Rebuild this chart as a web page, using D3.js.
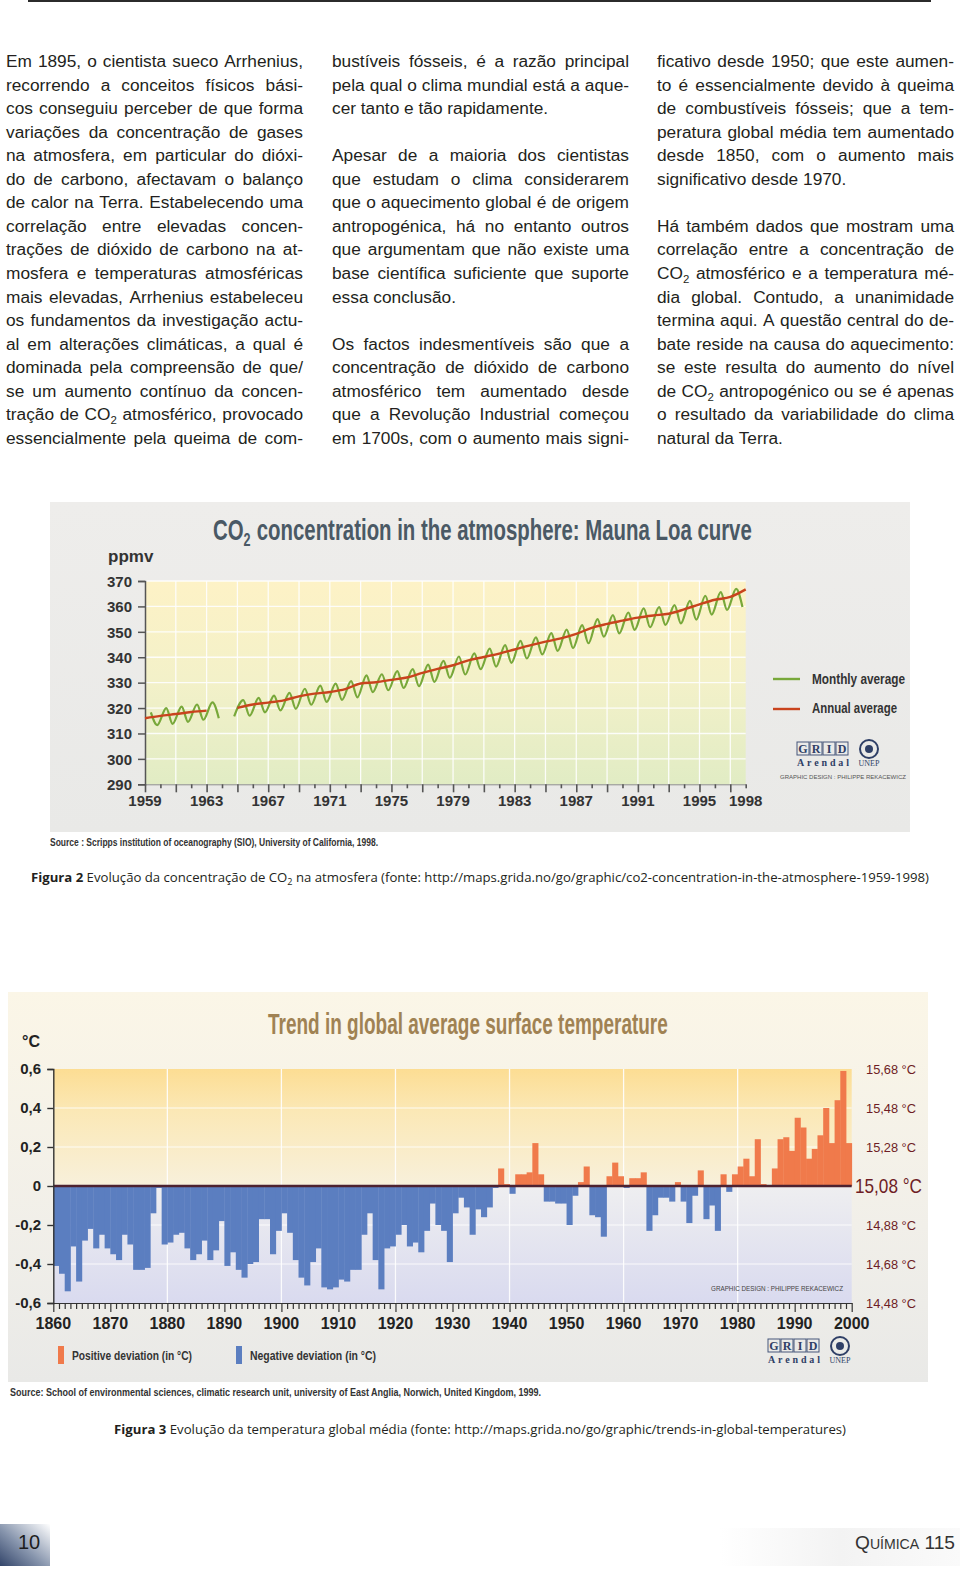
<!DOCTYPE html>
<html><head><meta charset="utf-8">
<script src="https://cdn.jsdelivr.net/npm/d3@7"></script>
<style>body{margin:0;background:#fff}svg{display:block}</style>
</head><body>
<svg id="page" width="960" height="1574"></svg>
<script>
// ---------------- DATA ----------------
const co2Years = [1959,1960,1961,1962,1963,1964,1965,1966,1967,1968,1969,1970,1971,1972,1973,1974,1975,1976,1977,1978,1979,1980,1981,1982,1983,1984,1985,1986,1987,1988,1989,1990,1991,1992,1993,1994,1995,1996,1997,1998];
const co2Annual = [315.97,316.91,317.64,318.45,318.99,null,320.04,321.38,322.16,323.04,324.62,325.68,326.32,327.45,329.68,330.18,331.11,332.04,333.83,335.40,336.84,338.75,340.11,341.45,343.05,344.65,346.12,347.42,349.19,351.57,353.12,354.39,355.61,356.45,357.10,358.83,360.82,362.61,363.73,366.70];
const co2MonthYears = [1959,1960,1961,1962,1963,1964,1965,1966,1967,1968,1969,1970,1971,1972,1973,1974,1975,1976,1977,1978,1979,1980,1981,1982,1983,1984,1985,1986,1987,1988,1989,1990,1991,1992,1993,1994,1995,1996,1997];
const co2Peak = [318.3,320.0,320.6,321.4,322.2,null,323.1,324.0,324.9,326.0,327.6,328.8,329.6,330.6,332.9,333.3,334.5,335.3,337.1,338.6,340.3,341.5,343.4,344.8,346.4,347.8,349.5,350.9,352.6,355.0,356.6,357.6,359.2,359.7,360.5,362.2,364.2,365.6,366.9];
const co2Trough = [313.3,313.8,314.6,315.4,316.0,316.7,317.0,318.3,319.1,319.7,321.3,322.4,323.2,324.2,326.3,327.0,327.9,328.6,330.3,331.9,333.2,335.3,336.3,337.8,339.5,341.1,342.5,343.6,345.5,348.1,349.4,350.8,351.8,352.7,353.3,354.8,356.8,358.6,359.8];
const co2YTicks = [290,300,310,320,330,340,350,360,370];
const co2XLabels = [1959,1963,1967,1971,1975,1979,1983,1987,1991,1995,1998];

const tempFirstYear = 1860;
const tempDeviation = [
 -0.41,-0.45,-0.54,-0.31,-0.49,-0.28,-0.22,-0.32,-0.25,-0.32,
 -0.35,-0.38,-0.25,-0.30,-0.43,-0.43,-0.42,-0.14,-0.01,-0.30,
 -0.29,-0.25,-0.24,-0.32,-0.38,-0.35,-0.28,-0.38,-0.33,-0.18,
 -0.41,-0.34,-0.43,-0.47,-0.40,-0.39,-0.17,-0.17,-0.35,-0.23,
 -0.14,-0.24,-0.38,-0.47,-0.51,-0.39,-0.32,-0.52,-0.53,-0.52,
 -0.48,-0.49,-0.43,-0.43,-0.25,-0.14,-0.38,-0.53,-0.32,-0.31,
 -0.25,-0.20,-0.31,-0.29,-0.34,-0.23,-0.09,-0.20,-0.23,-0.39,
 -0.14,-0.06,-0.11,-0.25,-0.12,-0.16,-0.11,-0.01,0.09,0.01,
 -0.04,0.06,0.06,0.07,0.22,0.06,-0.08,-0.08,-0.09,-0.09,
 -0.20,-0.05,0.02,0.10,-0.15,-0.16,-0.26,0.05,0.12,0.05,
 -0.01,0.04,0.04,0.07,-0.23,-0.15,-0.06,-0.06,-0.08,0.02,
 -0.08,-0.19,-0.05,0.08,-0.17,-0.10,-0.23,0.06,-0.03,0.06,
 0.10,0.14,0.05,0.24,0.01,0.005,0.09,0.24,0.25,0.18,
 0.35,0.30,0.14,0.19,0.26,0.40,0.22,0.44,0.59,0.22];
const tempYTicks = [-0.6,-0.4,-0.2,0,0.2,0.4,0.6];
const tempYLabels = ["-0,6","-0,4","-0,2","0","0,2","0,4","0,6"];
const tempAbsLabels = ["14,48 °C","14,68 °C","14,88 °C","15,08 °C","15,28 °C","15,48 °C","15,68 °C"];
const tempXLabels = [1860,1870,1880,1890,1900,1910,1920,1930,1940,1950,1960,1970,1980,1990,2000];

// ---------------- BODY TEXT ----------------
const col1 = ["Em 1895, o cientista sueco Arrhenius,","recorrendo a conceitos físicos bási-","cos conseguiu perceber de que forma","variações da concentração de gases","na atmosfera, em particular do dióxi-","do de carbono, afectavam o balanço","de calor na Terra. Estabelecendo uma","correlação entre elevadas concen-","trações de dióxido de carbono na at-","mosfera e temperaturas atmosféricas","mais elevadas, Arrhenius estabeleceu","os fundamentos da investigação actu-","al em alterações climáticas, a qual é","dominada pela compreensão de que/","se um aumento contínuo da concen-","tração de CO_2 atmosférico, provocado","essencialmente pela queima de com-"];
const col2 = ["bustíveis fósseis, é a razão principal","pela qual o clima mundial está a aque-","cer tanto e tão rapidamente.","","Apesar de a maioria dos cientistas","que estudam o clima considerarem","que o aquecimento global é de origem","antropogénica, há no entanto outros","que argumentam que não existe uma","base científica suficiente que suporte","essa conclusão.","","Os factos indesmentíveis são que a","concentração de dióxido de carbono","atmosférico tem aumentado desde","que a Revolução Industrial começou","em 1700s, com o aumento mais signi-"];
const col3 = ["ficativo desde 1950; que este aumen-","to é essencialmente devido à queima","de combustíveis fósseis; que a tem-","peratura global média tem aumentado","desde 1850, com o aumento mais","significativo desde 1970.","","Há também dados que mostram uma","correlação entre a concentração de","CO_2 atmosférico e a temperatura mé-","dia global. Contudo, a unanimidade","termina aqui. A questão central do de-","bate reside na causa do aquecimento:","se este resulta do aumento do nível","de CO_2 antropogénico ou se é apenas","o resultado da variabilidade do clima","natural da Terra."];

const svg = d3.select('#page');
const defs = svg.append('defs');
function grad(id, stops, x2=0, y2=1, x1=0, y1=0){
  const g = defs.append('linearGradient').attr('id', id).attr('x1',x1).attr('y1',y1).attr('x2',x2).attr('y2',y2);
  stops.forEach(s => g.append('stop').attr('offset', s[0]).attr('stop-color', s[1]));
}
const BODY = "'Liberation Sans', Arial, Helvetica, sans-serif";
const COND = "'Liberation Sans Narrow','Arial Narrow','Liberation Sans',Arial,sans-serif";
const CAP = "'Open Sans','Noto Sans',sans-serif";

svg.append('rect').attr('width',960).attr('height',1574).attr('fill','#fff');
svg.append('line').attr('x1',28).attr('x2',931).attr('y1',1).attr('y2',1).attr('stroke','#2b2b2b').attr('stroke-width',2);

// body text with word justification
const bodySize = 17.3;
const gBody = svg.append('g').attr('font-family', BODY).attr('font-size', bodySize).attr('fill', '#231f20');
function addRich(t, w, size){
  let sub = false;
  w.split(/(_\d)/).forEach(p => {
    if (!p) return;
    if (p[0] === '_') { t.append('tspan').attr('font-size', size*0.66).attr('dy', 4).text(p.slice(1)); sub = true; }
    else { t.append('tspan').attr('dy', sub ? -4 : 0).text(p); sub = false; }
  });
}
const meas = gBody.append('text').text('n n'); const w1 = meas.node().getComputedTextLength();
meas.text('nn'); const spaceW = w1 - meas.node().getComputedTextLength(); meas.remove();
function bodyLine(str, x, y, width, justify){
  const words = str.split(' ').filter(d => d.length);
  const nodes = words.map(w => { const t = gBody.append('text').attr('y', y); addRich(t, w, bodySize); return t; });
  const widths = nodes.map(n => n.node().getComputedTextLength());
  const total = d3.sum(widths);
  const gap = (justify && words.length > 1) ? (width - total) / (words.length - 1) : spaceW;
  let cx = x;
  nodes.forEach((n, i) => { n.attr('x', cx); cx += widths[i] + gap; });
}
const colX = [6, 332, 657], colW = 297, lineY0 = 67, lineStep = 23.55;
[col1, col2, col3].forEach((col, ci) => {
  col.forEach((line, li) => {
    if (!line) return;
    const next = col[li + 1];
    const justify = next === undefined ? ci < 2 : next !== "";
    bodyLine(line, colX[ci], lineY0 + li * lineStep, colW, justify);
  });
});

// condensed title: group scaled horizontally to a target width
function condensedTitle(parent, x, y, width, pieces, fill, size){
  const g = parent.append('g');
  let cur = 0;
  pieces.forEach(p => {
    cur += p.gap || 0;
    const t = g.append('text').attr('x', cur).attr('y', p.sub ? 6 : 0)
      .attr('font-family', BODY).attr('font-weight','bold').attr('font-size', p.sub ? size*0.62 : size).attr('fill', fill).text(p.t);
    cur += t.node().getComputedTextLength();
  });
  g.attr('transform', `translate(${x},${y}) scale(${width/cur},1)`);
  return g;
}

// ---------------- CO2 CHART ----------------
grad('co2Panel', [[0,'#eeedeb'],[1,'#e9e9e7']]);
grad('co2Plot', [[0,'#fdf2c6'],[0.5,'#f3f1c9'],[1,'#e1ecc4']]);
svg.append('rect').attr('x',50).attr('y',502).attr('width',860).attr('height',330).attr('fill','url(#co2Panel)');

const cx = d3.scaleLinear().domain([1959,1998]).range([145,745.7]);
const cy = d3.scaleLinear().domain([290,370]).range([784.3,581]);
const gC = svg.append('g');
gC.append('rect').attr('x',cx(1959)).attr('y',cy(370)).attr('width',cx(1998)-cx(1959)).attr('height',cy(290)-cy(370)).attr('fill','url(#co2Plot)');
gC.selectAll('.vg').data(d3.range(1961,1998,2)).join('line')
  .attr('x1',d=>cx(d)).attr('x2',d=>cx(d)).attr('y1',cy(370)).attr('y2',cy(290)).attr('stroke','#fff').attr('stroke-width',1.3).attr('opacity',0.9);
gC.selectAll('.hg').data(co2YTicks.slice(1)).join('line')
  .attr('x1',cx(1959)).attr('x2',cx(1998)).attr('y1',d=>cy(d)).attr('y2',d=>cy(d)).attr('stroke','#fff').attr('stroke-width',1.3).attr('opacity',0.9);
const co2Left = d3.axisLeft(cy).tickValues(co2YTicks).tickSize(7).tickPadding(6).tickFormat(d3.format('d'));
const gLy = gC.append('g').attr('transform',`translate(${cx(1959)},0)`).call(co2Left);
gLy.select('.domain').attr('stroke','#555').attr('stroke-width',1.5);
gLy.selectAll('.tick line').attr('stroke','#555').attr('stroke-width',1.5);
gLy.selectAll('text').attr('font-family',BODY).attr('font-weight','bold').attr('font-size',15).attr('fill','#333').attr('dy','0.35em');
const co2Bottom = d3.axisBottom(cx).tickValues(d3.range(1959,1999,1)).tickSize(0).tickFormat('');
const gBx = gC.append('g').attr('transform',`translate(0,${cy(290)})`).call(co2Bottom);
gBx.select('.domain').attr('stroke','#777').attr('stroke-width',0.8);
gBx.selectAll('.tick line').attr('stroke','#555').attr('stroke-width',1.6).attr('y2', d => (d-1959)%2===0 ? 8 : 4);
gC.selectAll('.xl').data(co2XLabels).join('text').attr('x',d=>cx(d)).attr('y',806)
  .attr('text-anchor','middle').attr('font-family',BODY).attr('font-weight','bold').attr('font-size',15).attr('fill','#333').text(d=>d);
gC.append('text').attr('x',108).attr('y',562).attr('font-family',BODY).attr('font-weight','bold').attr('font-size',17).attr('fill','#333').text('ppmv');
const monthly = [];
co2MonthYears.forEach((y,i) => { monthly.push([y+0.38, co2Peak[i]]); monthly.push([y+0.79, co2Trough[i]]); });
const lineM = d3.line().defined(d=>d[1]!=null).x(d=>cx(d[0])).y(d=>cy(d[1])).curve(d3.curveMonotoneX);
gC.append('path').attr('d', lineM(monthly)).attr('fill','none').attr('stroke','#78a83a').attr('stroke-width',2.2);
const annual = co2Years.map((y,i)=>[y, co2Annual[i]]);
gC.append('path').attr('d', lineM(annual)).attr('fill','none').attr('stroke','#c9431d').attr('stroke-width',2.4);
condensedTitle(gC, 213, 540, 539, [{t:'CO'},{t:'2',sub:true},{t:'concentration in the atmosphere: Mauna Loa curve', gap:9}], '#4a5965', 30);
// legend
gC.append('line').attr('x1',773).attr('x2',800).attr('y1',679).attr('y2',679).attr('stroke','#78a83a').attr('stroke-width',2.4);
gC.append('line').attr('x1',773).attr('x2',800).attr('y1',709).attr('y2',709).attr('stroke','#c9431d').attr('stroke-width',2.4);
gC.append('text').attr('x',812).attr('y',684).attr('font-family',COND).attr('font-weight','bold').attr('font-size',14).attr('fill','#333').text('Monthly average').attr('textLength',93).attr('lengthAdjust','spacingAndGlyphs');
gC.append('text').attr('x',812).attr('y',713).attr('font-family',COND).attr('font-weight','bold').attr('font-size',14).attr('fill','#333').text('Annual average').attr('textLength',85).attr('lengthAdjust','spacingAndGlyphs');
function gridLogo(g, x, y, s){
  ['G','R','I','D'].forEach((l,i)=>{
    g.append('rect').attr('x',x+i*13*s).attr('y',y).attr('width',12*s).attr('height',13*s).attr('fill','none').attr('stroke','#46567a').attr('stroke-width',1);
    g.append('text').attr('x',x+i*13*s+6*s).attr('y',y+11*s).attr('text-anchor','middle').attr('font-family',"'Liberation Serif',serif").attr('font-weight','bold').attr('font-size',12*s).attr('fill','#2f3f66').text(l);
  });
  g.append('text').attr('x',x).attr('y',y+24*s).attr('font-family',"'Liberation Serif',serif").attr('font-weight','bold').attr('font-size',10*s).attr('fill','#2f3f66').text('Arendal').attr('textLength',52*s).attr('lengthAdjust','spacing');
  const ux = x + 72*s, uy = y + 7*s;
  g.append('circle').attr('cx',ux).attr('cy',uy).attr('r',9*s).attr('fill','none').attr('stroke','#2f3f66').attr('stroke-width',2);
  g.append('circle').attr('cx',ux).attr('cy',uy).attr('r',4*s).attr('fill','#2f3f66');
  g.append('text').attr('x',ux).attr('y',y+24*s).attr('text-anchor','middle').attr('font-family',"'Liberation Serif',serif").attr('font-size',8*s).attr('fill','#2f3f66').text('UNEP');
}
gridLogo(gC, 797, 742, 1);
gC.append('text').attr('x',780).attr('y',779).attr('font-family',COND).attr('font-size',6).attr('fill','#555').text('GRAPHIC DESIGN : PHILIPPE REKACEWICZ').attr('textLength',126).attr('lengthAdjust','spacingAndGlyphs');
gC.append('text').attr('x',50).attr('y',846).attr('font-family',COND).attr('font-weight','bold').attr('font-size',10).attr('fill','#333').text('Source : Scripps institution of oceanography (SIO), University of California, 1998.').attr('textLength',328).attr('lengthAdjust','spacingAndGlyphs');

// caption 2
const c2 = svg.append('text').attr('x',31).attr('y',882).attr('font-family',CAP).attr('font-size',13).attr('fill','#231f20');
c2.append('tspan').attr('font-weight','bold').text('Figura 2');
c2.append('tspan').text(' Evolução da concentração de CO');
c2.append('tspan').attr('font-size',9).attr('dy',3).text('2');
c2.append('tspan').attr('dy',-3).text(' na atmosfera (fonte: http://maps.grida.no/go/graphic/co2-concentration-in-the-atmosphere-1959-1998)');
c2.attr('textLength',898).attr('lengthAdjust','spacingAndGlyphs');

// ---------------- TEMPERATURE CHART ----------------
grad('tPanel', [[0,'#fbf6e7'],[0.6,'#f1efe9'],[1,'#e9e9e7']]);
grad('tPlot', [[0,'#fcdd93'],[0.18,'#fbe8b6'],[0.49,'#f8f0da'],[0.51,'#eeeef0'],[1,'#d9daef']]);
svg.append('rect').attr('x',8).attr('y',992).attr('width',920).attr('height',390).attr('fill','url(#tPanel)');
const tx = d3.scaleLinear().domain([1860,2000]).range([53.3,851.7]);
const ty = d3.scaleLinear().domain([-0.6,0.6]).range([1303,1069]);
const gT = svg.append('g');
gT.append('rect').attr('x',tx(1860)).attr('y',ty(0.6)).attr('width',tx(2000)-tx(1860)).attr('height',ty(-0.6)-ty(0.6)).attr('fill','url(#tPlot)');
gT.selectAll('.hg').data([-0.4,-0.2,0.2,0.4]).join('line').attr('x1',tx(1860)).attr('x2',tx(2000)).attr('y1',d=>ty(d)).attr('y2',d=>ty(d)).attr('stroke','#fff').attr('stroke-width',1.2).attr('opacity',0.85);
gT.selectAll('.vg').data([1880,1900,1920,1940,1960,1980]).join('line').attr('x1',d=>tx(d)).attr('x2',d=>tx(d)).attr('y1',ty(0.6)).attr('y2',ty(-0.6)).attr('stroke','#fff').attr('stroke-width',1.3).attr('opacity',0.9);
const tData = tempDeviation.map((v,i)=>({year: tempFirstYear+i, v}));
gT.selectAll('.bar').data(tData).join('rect')
  .attr('x',d=>tx(d.year)).attr('width',d=>tx(d.year+1)-tx(d.year)+0.4)
  .attr('y',d=>ty(Math.max(0,d.v))).attr('height',d=>Math.abs(ty(d.v)-ty(0)))
  .attr('fill',d=>d.v>=0?'#f07a4b':'#5b7ec0');
gT.append('line').attr('x1',tx(1860)).attr('x2',tx(2000)).attr('y1',ty(0)).attr('y2',ty(0)).attr('stroke','#4d2230').attr('stroke-width',2.5);
const tLeft = d3.axisLeft(ty).tickValues(tempYTicks).tickSize(6).tickFormat('');
const gTy = gT.append('g').attr('transform',`translate(${tx(1860)},0)`).call(tLeft);
gTy.select('.domain').attr('stroke','#333').attr('stroke-width',1.4);
gTy.selectAll('.tick line').attr('stroke','#333').attr('stroke-width',1.4);
gT.selectAll('.yl').data(tempYTicks).join('text').attr('x',41).attr('y',d=>ty(d)).attr('dy','0.35em').attr('text-anchor','end')
  .attr('font-family',BODY).attr('font-weight','bold').attr('font-size',15).attr('fill','#222').text((d,i)=>tempYLabels[i]);
gT.append('text').attr('x',22).attr('y',1047).attr('font-family',BODY).attr('font-weight','bold').attr('font-size',16).attr('fill','#222').text('°C');
const tBottom = d3.axisBottom(tx).tickValues(d3.range(1860,2001,1)).tickSize(0).tickFormat('');
const gTx = gT.append('g').attr('transform',`translate(0,${ty(-0.6)})`).call(tBottom);
gTx.select('.domain').attr('stroke','#333').attr('stroke-width',1.2);
gTx.selectAll('.tick line').attr('stroke','#333').attr('stroke-width',1.2).attr('y2',d=>d%10===0?9:6);
gT.selectAll('.xl').data(tempXLabels).join('text').attr('x',d=>tx(d)).attr('y',1329).attr('text-anchor','middle')
  .attr('font-family',BODY).attr('font-weight','bold').attr('font-size',16).attr('fill','#222').text(d=>d);
gT.selectAll('.rl').data(tempYTicks).join('text').attr('x',(d)=>d===0?855:866).attr('y',d=>ty(d)).attr('dy','0.35em')
  .attr('font-family',COND).attr('font-size',d=>d===0?21:13.5).attr('fill','#6e1d25').text((d,i)=>tempAbsLabels[i])
  .attr('textLength',d=>d===0?67:50).attr('lengthAdjust','spacingAndGlyphs');
condensedTitle(gT, 268, 1034, 400, [{t:'Trend in global average surface temperature'}], '#a08253', 29);
gT.append('rect').attr('x',58).attr('y',1346).attr('width',6).attr('height',18).attr('fill','#f07a4b');
gT.append('text').attr('x',72).attr('y',1360).attr('font-family',COND).attr('font-weight','bold').attr('font-size',13).attr('fill','#333').text('Positive deviation (in °C)').attr('textLength',120).attr('lengthAdjust','spacingAndGlyphs');
gT.append('rect').attr('x',236).attr('y',1346).attr('width',6).attr('height',18).attr('fill','#5b7ec0');
gT.append('text').attr('x',250).attr('y',1360).attr('font-family',COND).attr('font-weight','bold').attr('font-size',13).attr('fill','#333').text('Negative deviation (in °C)').attr('textLength',126).attr('lengthAdjust','spacingAndGlyphs');
gT.append('text').attr('x',711).attr('y',1291).attr('font-family',COND).attr('font-size',6.5).attr('fill','#444').text('GRAPHIC DESIGN : PHILIPPE REKACEWICZ').attr('textLength',132).attr('lengthAdjust','spacingAndGlyphs');
gridLogo(gT, 768, 1339, 1);
gT.append('text').attr('x',10).attr('y',1396).attr('font-family',COND).attr('font-weight','bold').attr('font-size',10).attr('fill','#333')
  .text('Source: School of environmental sciences, climatic research unit, university of East Anglia, Norwich, United Kingdom, 1999.').attr('textLength',531).attr('lengthAdjust','spacingAndGlyphs');

// caption 3
const c3 = svg.append('text').attr('x',114).attr('y',1434).attr('font-family',CAP).attr('font-size',13).attr('fill','#231f20');
c3.append('tspan').attr('font-weight','bold').text('Figura 3');
c3.append('tspan').text('  Evolução da temperatura global média (fonte: http://maps.grida.no/go/graphic/trends-in-global-temperatures)');
c3.attr('textLength',732).attr('lengthAdjust','spacingAndGlyphs');

// ---------------- FOOTER ----------------
grad('pgTab', [[0,'#33456a'],[0.45,'#8795ad'],[1,'#ffffff']], 1, 0, 0, 1);
grad('rTab', [[0,'#ffffff'],[0.5,'#f3f3f3'],[1,'#fafafa']], 1, 0, 0, 0);
svg.append('rect').attr('x',0).attr('y',1524).attr('width',50).attr('height',42).attr('fill','url(#pgTab)');
svg.append('rect').attr('x',720).attr('y',1528).attr('width',240).attr('height',38).attr('fill','url(#rTab)');
svg.append('text').attr('x',18).attr('y',1549).attr('font-family',COND).attr('font-size',20).attr('fill','#1d1d1d').text('10');
const q = svg.append('text').attr('x',855).attr('y',1549).attr('font-family',COND).attr('font-size',19).attr('fill','#333');
q.append('tspan').text('Q'); q.append('tspan').attr('font-size',14).text('UÍMICA'); q.append('tspan').text(' 115');
q.attr('textLength',100).attr('lengthAdjust','spacingAndGlyphs');
</script>
</body></html>
